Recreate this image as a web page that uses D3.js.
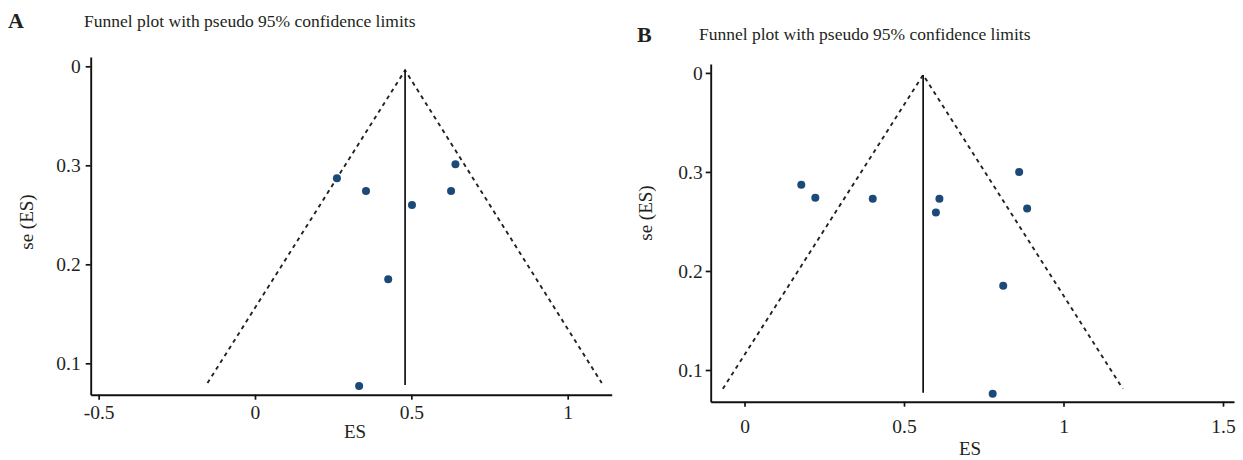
<!DOCTYPE html>
<html>
<head>
<meta charset="utf-8">
<script src="https://cdn.jsdelivr.net/npm/d3@7"></script>
<style>
  body { margin: 0; background: #fff; }
  text { font-family: "Liberation Serif", "DejaVu Serif", serif; fill: #231f20; }
</style>
</head>
<body>
<svg id="chart" width="1243" height="460"></svg>
<script>
// tick labels as printed on the original (se axis labels are not monotone)
const xTicksA = [-0.5, 0, 0.5, 1];
const xTicksB = [0, 0.5, 1, 1.5];
const yTicks = [0.4, 0.3, 0.2, 0.1];
const yTickLabels = ["0", "0.3", "0.2", "0.1"];

// panel A studies
const esA = [0.262, 0.355, 0.502, 0.641, 0.627, 0.426, 0.333];
const seA = [0.287, 0.274, 0.260, 0.301, 0.274, 0.185, 0.077];
// pooled estimate and pseudo 95% limits: [apex se, bottom se, lower, upper]
const pooledA = 0.480;
const funnelA = [0.396, 0.080, -0.152, 1.109];

// panel B studies
const esB = [0.178, 0.222, 0.402, 0.611, 0.600, 0.861, 0.886, 0.811, 0.778];
const seB = [0.287, 0.274, 0.273, 0.273, 0.259, 0.300, 0.263, 0.185, 0.076];
const pooledB = 0.560;
const funnelB = [0.398, 0.081, -0.068, 1.186];

const svg = d3.select("#chart");

function funnel(p)
{
  const x = d3.scaleLinear().domain(p.xDomain).range(p.xRange);
  const y = d3.scaleLinear().domain(p.yDomain).range(p.yRange);
  const g = svg.append("g");

  // letter + title
  g.append("text")
    .attr("x", p.letterX).attr("y", p.letterY)
    .attr("font-size", "22px").attr("font-weight", "bold")
    .text(p.letter);
  g.append("text")
    .attr("x", p.titleX).attr("y", p.titleY)
    .attr("font-size", "17.5px")
    .text("Funnel plot with pseudo 95% confidence limits");

  // funnel
  const [apexSe, botSe, lo, hi] = p.limits;
  g.append("path")
    .attr("d", d3.line()([[x(lo), y(botSe)], [x(p.pooled), y(apexSe)], [x(hi), y(botSe)]]))
    .attr("fill", "none")
    .attr("stroke", "#222")
    .attr("stroke-width", 1.9)
    .attr("stroke-dasharray", "4,4");

  g.append("line")
    .attr("x1", x(p.pooled)).attr("x2", x(p.pooled))
    .attr("y1", y(apexSe)).attr("y2", y(p.vBottom))
    .attr("stroke", "#111")
    .attr("stroke-width", 1.7);

  // studies
  g.selectAll("circle.pt")
    .data(p.es.map((d, i) => ({es: d, se: p.se[i]})))
    .join("circle")
      .attr("class", "pt")
      .attr("cx", d => x(d.es))
      .attr("cy", d => y(d.se))
      .attr("r", 4)
      .attr("fill", "#1b4a78");

  // axes
  const xAxis = g.append("g")
    .attr("transform", `translate(0, ${p.yRange[0]})`)
    .call(d3.axisBottom(x).tickValues(p.xTicks).tickFormat(d3.format("")).tickSize(5).tickSizeOuter(0).tickPadding(p.xPad));
  const yAxis = g.append("g")
    .attr("transform", `translate(${p.xRange[0]}, 0)`)
    .call(d3.axisLeft(y).tickValues(yTicks).tickFormat((d, i) => yTickLabels[i]).tickSize(5).tickSizeOuter(0).tickPadding(p.yPad));

  [xAxis, yAxis].forEach(a => {
    a.select(".domain").attr("stroke", "#111").attr("stroke-width", 1.9);
    a.selectAll(".tick line").attr("stroke", "#111").attr("stroke-width", 1.7);
    a.selectAll(".tick text")
      .attr("font-size", "19.5px")
      .attr("fill", "#231f20");
  });
  xAxis.selectAll(".tick text").text(d => d === -0.5 ? "-0.5" : d3.format("")(d));

  // axis titles
  g.append("text")
    .attr("transform", `translate(${p.yLabX}, ${p.yLabY}) rotate(-90)`)
    .attr("text-anchor", "middle")
    .attr("dominant-baseline", "middle")
    .attr("font-size", "19px")
    .text("se (ES)");
  g.append("text")
    .attr("x", p.xLabX).attr("y", p.xLabY)
    .attr("text-anchor", "middle")
    .attr("font-size", "19px")
    .text("ES");
}

funnel({
  letter: "A", letterX: 8, letterY: 28, titleX: 84, titleY: 26.5,
  xDomain: [-0.5254, 1.1407], xRange: [90.7, 611.7],
  yDomain: [0.0683, 0.4094], yRange: [394.7, 57],
  xTicks: xTicksA, xPad: 5.5, yPad: 5,
  es: esA, se: seA, pooled: pooledA, limits: funnelA, vBottom: 0.078,
  yLabX: 29, yLabY: 222, xLabX: 355, xLabY: 438
});

funnel({
  letter: "B", letterX: 637, letterY: 42, titleX: 699, titleY: 40,
  xDomain: [-0.106, 1.5345], xRange: [710.7, 1234],
  yDomain: [0.068, 0.409], yRange: [401.7, 64],
  xTicks: xTicksB, xPad: 12, yPad: 3,
  es: esB, se: seB, pooled: pooledB, limits: funnelB, vBottom: 0.077,
  yLabX: 648, yLabY: 213, xLabX: 970, xLabY: 455
});
</script>
</body>
</html>
